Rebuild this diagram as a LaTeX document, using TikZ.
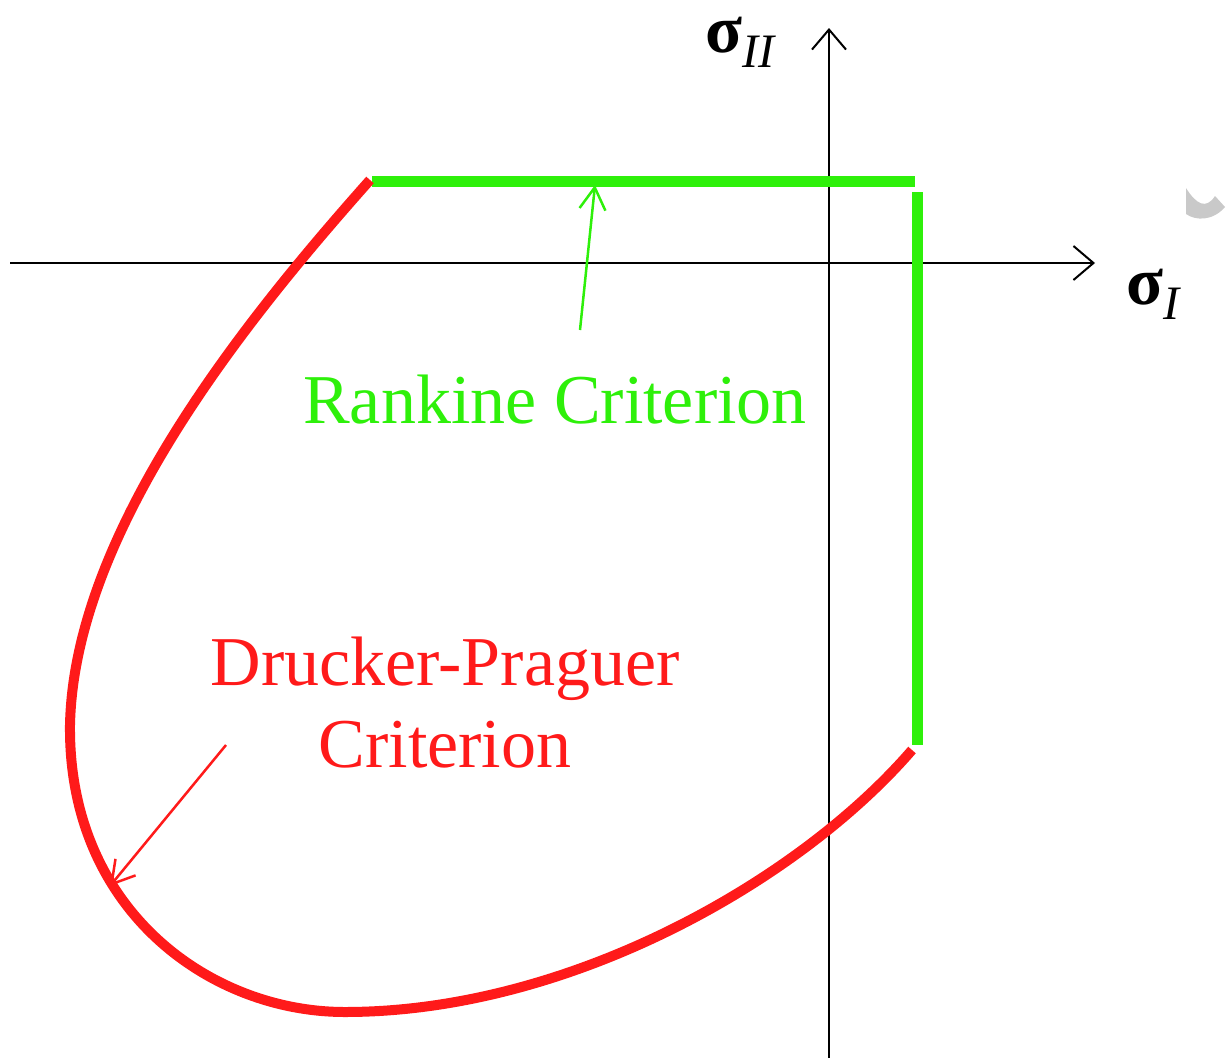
\documentclass[tikz,border=0pt]{standalone}
\usepackage{fontspec}
\setmainfont{Liberation Serif}
\usepackage{xcolor}
\usepackage{tikz}
\usetikzlibrary{positioning,arrows.meta}
\definecolor{rankine}{HTML}{2EF00A}
\definecolor{drucker}{HTML}{FF1A1A}
\definecolor{smudge}{HTML}{C9C9C9}
\tikzset{
  axis/.style={draw=black, line width=2pt, -{Straight Barb[length=20pt, width=34pt, line width=2pt]}},
  limit/.style={line width=11pt},
  pointer/.style={line width=2.5pt, -{Straight Barb[length=22pt, width=26pt, line width=2.5pt]}},
  caption/.style={font=\fontsize{70}{82}\selectfont, align=center, inner sep=0pt},
  axlabel/.style={font=\fontsize{68}{68}\selectfont\bfseries, inner sep=0pt, anchor=base west,
    text height=34pt, text depth=16pt},
}
\newcommand{\subidx}[1]{\raisebox{-15pt}{\fontsize{48}{48}\selectfont\mdseries\itshape #1}}
\begin{document}
\begin{tikzpicture}[x=1pt, y=-1pt]
  \useasboundingbox (0,0) rectangle (1227,1058);

  % axes
  \coordinate (xstart) at (10,263);
  \coordinate (xend) at (1095,263);
  \coordinate (ystart) at (829,1058);
  \coordinate (yend) at (829,28);
  \draw[axis] (xstart) -- (xend);
  \draw[axis] (ystart) -- (yend);
  \node[axlabel] (sigI) at (1126,304) {σ\subidx{I}};
  \node[axlabel] (sigII) at (705,52) {σ\subidx{II}};

  % Rankine
  \coordinate (rkleft) at (372,181);
  \coordinate (rkcorner) at (915,181);
  \coordinate (rktop) at (917,192);
  \coordinate (rkbottom) at (917,745);
  \draw[limit, rankine] (rkleft) -- (rkcorner);
  \draw[limit, rankine] (rktop) -- (rkbottom);

  % Drucker-Prager
  \coordinate (dptop) at (370,180);
  \coordinate (dpleft) at (70,725);
  \coordinate (dplow) at (345,1012);
  \coordinate (dpend) at (912,750);
  \draw[limit, drucker, line width=10pt]
    (dptop) .. controls (250,315) and (74,530) .. (dpleft)
    .. controls (68,910) and (210,1012) .. (dplow)
    .. controls (570,1012) and (800,880) .. (dpend);

  % labels
  \node[caption, text=rankine] (rklabel) at (555,400) {Rankine Criterion};
  \node[caption, text=drucker] (dplabel) at (445,703) {Drucker-Praguer\\Criterion};
  \coordinate (rkfrom) at (580,330);
  \coordinate (rkto) at (595,185);
  \coordinate (dpfrom) at (226,745);
  \coordinate (dpto) at (110,886);
  \draw[pointer, rankine] (rkfrom) -- (rkto);
  \draw[pointer, drucker] (dpfrom) -- (dpto);

  % grey mark at the right edge
  \fill[smudge] (1186,188) -- (1186,214) .. controls (1196,221) and (1213,221) .. (1225,207)
    -- (1215,196) .. controls (1206,210) and (1196,204) .. cycle;
\end{tikzpicture}
\end{document}
